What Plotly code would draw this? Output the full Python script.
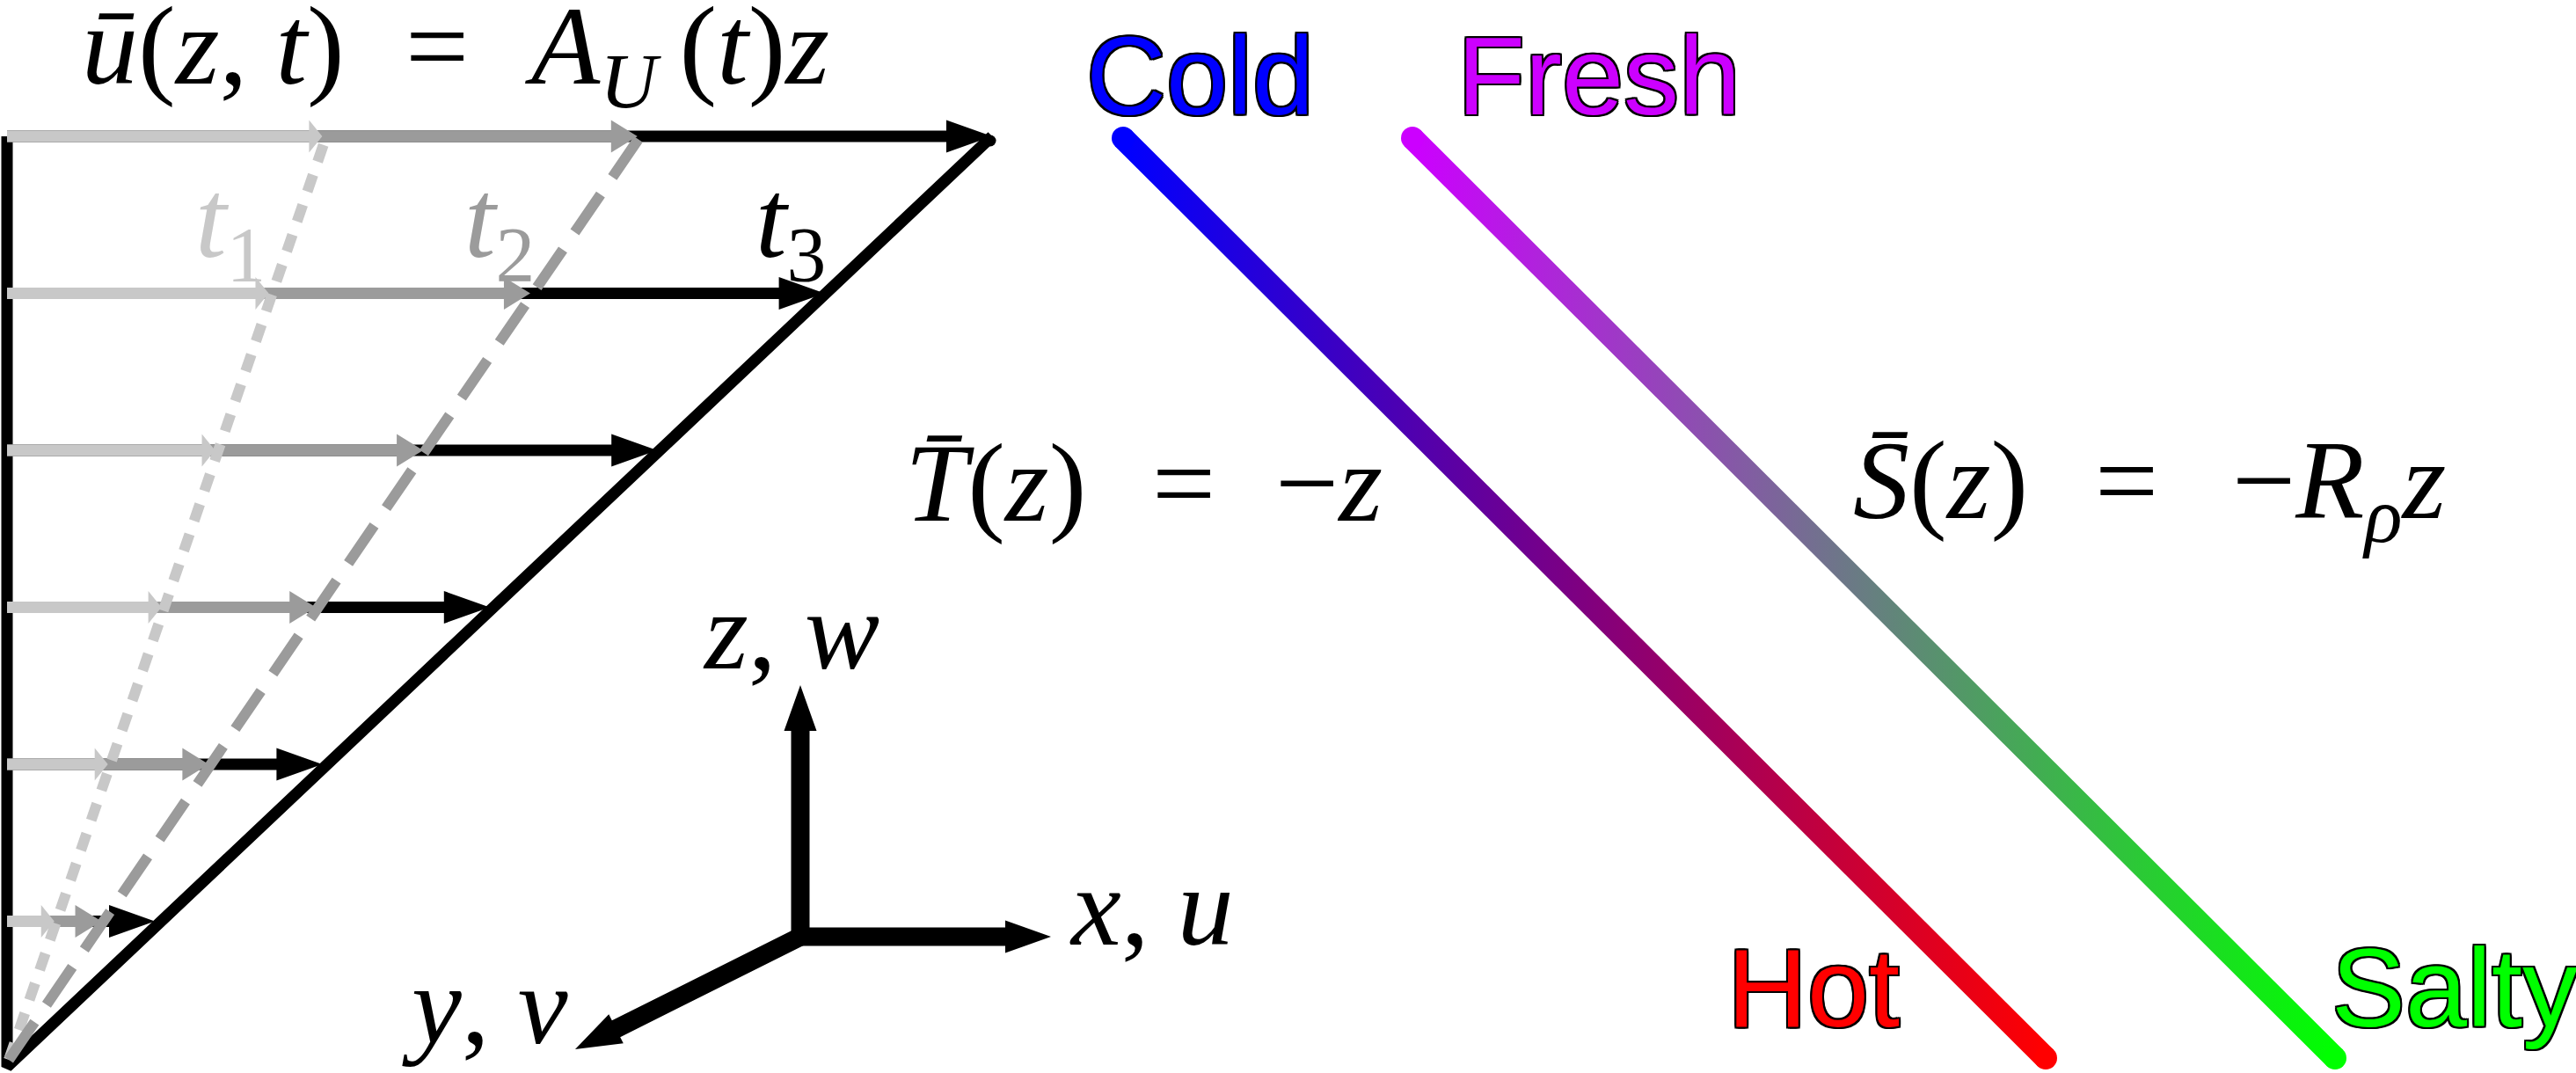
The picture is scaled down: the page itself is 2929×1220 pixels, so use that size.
import numpy as np
import plotly.graph_objects as go

W, H = 2929, 1220

# ---- left panel: shear profile u = A(t) z
wall_x = 8
z0_y, z1_y = 1205, 155          # picture y of z = 0 and z = 1
wall_bottom_y = 1213
z_levels = [1.0, 0.83, 0.66, 0.49, 0.32, 0.15]
amp = [0.32, 0.64, 1.0]          # A_U(t1), A_U(t2), A_U(t3)
u_scale = 1120
time_labels = ["<i>t</i><sub>1</sub>", "<i>t</i><sub>2</sub>", "<i>t</i><sub>3</sub>"]
time_label_x = [262, 568, 899]
time_label_base = 292

# ---- right panel: background profiles
profile_top = [(1277, 157), (1606, 157)]
profile_bottom = [(2326, 1203), (2655, 1203)]
profile_colors = [("#0000ff", "#ff0000"), ("#cc00ff", "#00ff00")]
end_words = [("Cold", "Hot"), ("Fresh", "Salty")]
top_word_x = [1364, 1818]
bottom_word_x = [2062, 2791]
top_word_base, bottom_word_base = 130, 1167

# ---- coordinate glyph
origin = (910, 1065)
axis_tips = [(910, 779), (1195, 1065), (654, 1193)]
axis_labels = ["<i>z</i>, <i>w</i>", "<i>x</i>, <i>u</i>", "<i>y</i>, <i>v</i>"]
axis_label_x = [899, 1309, 551]
axis_label_base = [760, 1074, 1186]

# ---- equations, split into left side / "=" / right side
eq_pieces = [
    "<i>ū</i>(<i>z</i>, <i>t</i>)", "=",
    "<i>A</i><sub><i>U</i></sub>\u2009(<i>t</i>)<i>z</i>",
    "<i>T\u0304</i>(<i>z</i>)", "=", "\u2212<i>z</i>",
    "<i>S\u0304</i>(<i>z</i>)", "=", "\u2212<i>R</i><sub><i>ρ</i></sub><i>z</i>",
]
eq_piece_x = [242, 497, 770, 1132, 1346, 1511, 2206, 2418, 2659]
eq_piece_base = [95, 95, 95, 592, 592, 592, 589, 589, 589]

# styles
time_colors = ["#c8c8c8", "#9b9b9b", "#000000"]
head_len = [15, 30, 52]
MATH, MATH_SIZE, MATH_ASC = "Liberation Serif", 128, 0.891
SANS, SANS_SIZE, SANS_ASC = "Liberation Sans, Arial", 126, 0.905


def arrow_poly(p0, p1, shaft, hl, hw):
    p0 = np.array(p0, float)
    p1 = np.array(p1, float)
    d = p1 - p0
    u = d / np.hypot(*d)
    n = np.array([-u[1], u[0]])
    b = p1 - u * hl
    pts = [p0 + n * shaft / 2, b + n * shaft / 2, b + n * hw / 2, p1,
           b - n * hw / 2, b - n * shaft / 2, p0 - n * shaft / 2, p0 + n * shaft / 2]
    pts = np.array(pts)
    return pts[:, 0], pts[:, 1]


def zy(z):
    return z0_y - (z0_y - z1_y) * z


fig = go.Figure()

# wall and t3 envelope
top_tip = (wall_x + amp[-1] * u_scale, z1_y)
fig.add_trace(go.Scatter(x=[wall_x, wall_x, top_tip[0]], y=[z1_y, wall_bottom_y, top_tip[1]],
                         mode="lines", line=dict(color="black", width=13)))
fig.add_trace(go.Scatter(x=[top_tip[0] - 2], y=[top_tip[1] + 5], mode="markers",
                         marker=dict(color="black", size=13)))

# velocity arrows (latest time underneath)
for z in z_levels:
    for k in [2, 1, 0]:
        xs, ys = arrow_poly((wall_x, zy(z)), (wall_x + amp[k] * u_scale * z, zy(z)),
                            13, head_len[k], 37)
        fig.add_trace(go.Scatter(x=xs, y=ys, mode="lines", fill="toself",
                                 fillcolor=time_colors[k], line=dict(width=0)))

# dashed profiles for t1, t2
dashes = ["20px,16px", "52px,24px"]
for k in [0, 1]:
    fig.add_trace(go.Scatter(x=[wall_x + 2, wall_x + amp[k] * u_scale + 6], y=[z0_y, z1_y - 4],
                             mode="lines",
                             line=dict(color=time_colors[k], width=12, dash=dashes[k])))

# coloured T and S profiles
for (x0, y0), (x1, y1), (c0, c1) in zip(profile_top, profile_bottom, profile_colors):
    p0, p1 = np.array([x0, y0], float), np.array([x1, y1], float)
    d = (p1 - p0) / np.hypot(*(p1 - p0))
    n = np.array([-d[1], d[0]]) * 13
    poly = np.array([p0 + n, p1 + n, p1 - n, p0 - n, p0 + n])
    fig.add_trace(go.Scatter(x=poly[:, 0], y=poly[:, 1], mode="lines", fill="toself",
                             line=dict(width=0),
                             fillgradient=dict(type="horizontal", colorscale=[[0, c0], [1, c1]],
                                               start=x0, stop=x1)))
    fig.add_trace(go.Scatter(x=[x0, x1], y=[y0, y1], mode="markers",
                             marker=dict(color=[c0, c1], size=26, line=dict(width=0))))

# coordinate glyph
for tip in axis_tips:
    xs, ys = arrow_poly(origin, tip, 21, 52, 37)
    fig.add_trace(go.Scatter(x=xs, y=ys, mode="lines", fill="toself",
                             fillcolor="black", line=dict(width=0)))

outline = ", ".join(f"{dx}px {dy}px 0 #000" for dx, dy in
                    [(2, 0), (-2, 0), (0, 2), (0, -2), (2, 2), (-2, 2), (2, -2), (-2, -2)])


def label(txt, x, base, family, size, asc, color, **kw):
    # top-anchored (paper y) so the baseline lands on `base`
    top = base - asc * size - 2
    return dict(text=txt, x=x, y=1 - top / H, xref="x", yref="paper",
                showarrow=False, xanchor="center", yanchor="top",
                font=dict(family=family, size=size, color=color, **kw))


annotations = []
for txt, x, b in zip(eq_pieces, eq_piece_x, eq_piece_base):
    annotations.append(label(txt, x, b, MATH, MATH_SIZE, MATH_ASC, "black"))
for txt, x, c in zip(time_labels, time_label_x, time_colors):
    annotations.append(label(txt, x, time_label_base, MATH, MATH_SIZE, MATH_ASC, c))
for txt, x, b in zip(axis_labels, axis_label_x, axis_label_base):
    annotations.append(label(txt, x, b, MATH, MATH_SIZE, MATH_ASC, "black"))
for words, tx, bx, cols in zip(end_words, top_word_x, bottom_word_x, profile_colors):
    annotations.append(label(words[0], tx, top_word_base, SANS, SANS_SIZE, SANS_ASC,
                             cols[0], shadow=outline))
    annotations.append(label(words[1], bx, bottom_word_base, SANS, SANS_SIZE, SANS_ASC,
                             cols[1], shadow=outline))

fig.update_layout(
    width=W, height=H,
    margin=dict(l=0, r=0, t=0, b=0),
    paper_bgcolor="white", plot_bgcolor="white",
    showlegend=False,
    annotations=annotations,
    xaxis=dict(range=[0, W], visible=False, fixedrange=True),
    yaxis=dict(range=[H, 0], visible=False, fixedrange=True),
)

fig.write_html("out.html", config={"displayModeBar": False},
               post_script="document.body.style.margin='0px';")
